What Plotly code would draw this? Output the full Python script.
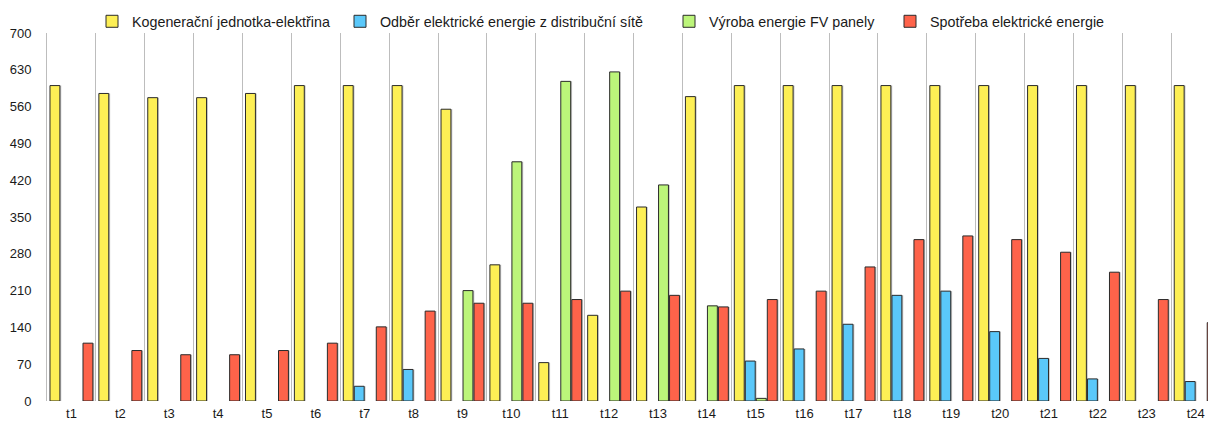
import plotly.graph_objects as go

# Hourly periods
periods = [f"t{i}" for i in range(1, 25)]

# Electricity from the cogeneration unit
kogenerace = [600, 585, 577, 577, 585, 600, 600, 600, 555, 259, 73, 163,
              369, 579, 600, 600, 600, 600, 600, 600, 600, 600, 600, 600]
# Energy drawn from the distribution grid
odber_site = [0, 0, 0, 0, 0, 0, 28, 60, 0, 0, 0, 0,
              0, 0, 76, 99, 146, 201, 209, 132, 81, 42, 0, 37]
# Photovoltaic production
vyroba_fv = [0, 0, 0, 0, 0, 0, 0, 0, 210, 455, 608, 626,
             411, 181, 5, 0, 0, 0, 0, 0, 0, 0, 0, 0]
# Electricity consumption
spotreba = [110, 96, 88, 88, 96, 110, 141, 171, 186, 186, 193, 209,
            201, 179, 193, 209, 255, 307, 314, 307, 283, 245, 193, 149]

y_ticks = list(range(0, 701, 70))

FONT = "Liberation Sans, Arial, Helvetica, sans-serif"
TXT = "#1a1a1a"
W, H = 1208, 421
ML, MR, MT, MB = 47, 0, 33, 20
CAT_PX = 48.88  # width of one period on the x axis

xpos = list(range(len(periods)))

series = [
    ("Kogenerační jednotka-elektřina", kogenerace, "#FDEF55", "legend", 112),
    ("Odběr elektrické energie z distribuční sítě", odber_site, "#5AC8FA", "legend2", 360),
    ("Výroba energie FV panely", vyroba_fv, "#BCF57A", "legend3", 689),
    ("Spotřeba elektrické energie", spotreba, "#FE634A", "legend4", 910),
]

# Grouped bar geometry in axis units (four bars per period)
GROUP = 0.9
SLOT = GROUP / len(series)
BAR_W = SLOT * 0.9
SHADOW_DX = 1.4 / CAT_PX

fig = go.Figure()
for k, (name, vals, color, leg, _) in enumerate(series):
    shown = [v if v else None for v in vals]
    off = -GROUP / 2 + k * SLOT + (SLOT - BAR_W) / 2
    # soft drop shadow to the right of each bar
    fig.add_trace(go.Bar(
        x=xpos, y=shown, offset=off + SHADOW_DX, width=BAR_W,
        marker=dict(color="rgba(0,0,0,0.22)", line=dict(width=0)),
        showlegend=False, hoverinfo="skip",
    ))
    fig.add_trace(go.Bar(
        x=xpos, y=shown, name=name, legend=leg,
        offset=off, width=BAR_W,
        marker=dict(color=color, line=dict(color="#2b2b2b", width=1)),
    ))

legend_common = dict(
    orientation="h", xref="container", yref="container",
    xanchor="left", yanchor="middle", y=1 - 21.5 / H,
    font=dict(family=FONT, size=14.3, color=TXT),
    bgcolor="rgba(0,0,0,0)", borderwidth=0,
)
legend_layout = {}
for _, _, _, leg, icon_cx in series:
    legend_layout[leg] = dict(legend_common, x=(icon_cx - 20) / W)

x_end = -0.5 + (W - ML - MR) / CAT_PX

fig.update_layout(
    width=W, height=H,
    margin=dict(l=ML, r=MR, t=MT, b=MB, pad=0, autoexpand=False),
    paper_bgcolor="white", plot_bgcolor="white",
    barmode="overlay",
    font=dict(family=FONT, size=13, color=TXT),
    showlegend=True,
    **legend_layout,
)

fig.update_xaxes(
    range=[-0.5, x_end],
    tickmode="array", tickvals=xpos, ticktext=periods,
    showgrid=False, zeroline=False, showline=False,
    ticks="", ticklabelstandoff=3,
    tickfont=dict(family=FONT, size=13, color=TXT),
    minor=dict(tickmode="array", tickvals=[i - 0.5 for i in xpos],
               showgrid=True, gridcolor="#bdbdbd", gridwidth=1, ticks=""),
)
fig.update_yaxes(
    range=[0, 700],
    tickmode="array", tickvals=y_ticks,
    showgrid=False, zeroline=False,
    showline=True, linecolor="#bdbdbd", linewidth=1,
    ticks="", ticklabelstandoff=12,
    tickfont=dict(family=FONT, size=13, color=TXT),
)

fig.write_html("out.html")
